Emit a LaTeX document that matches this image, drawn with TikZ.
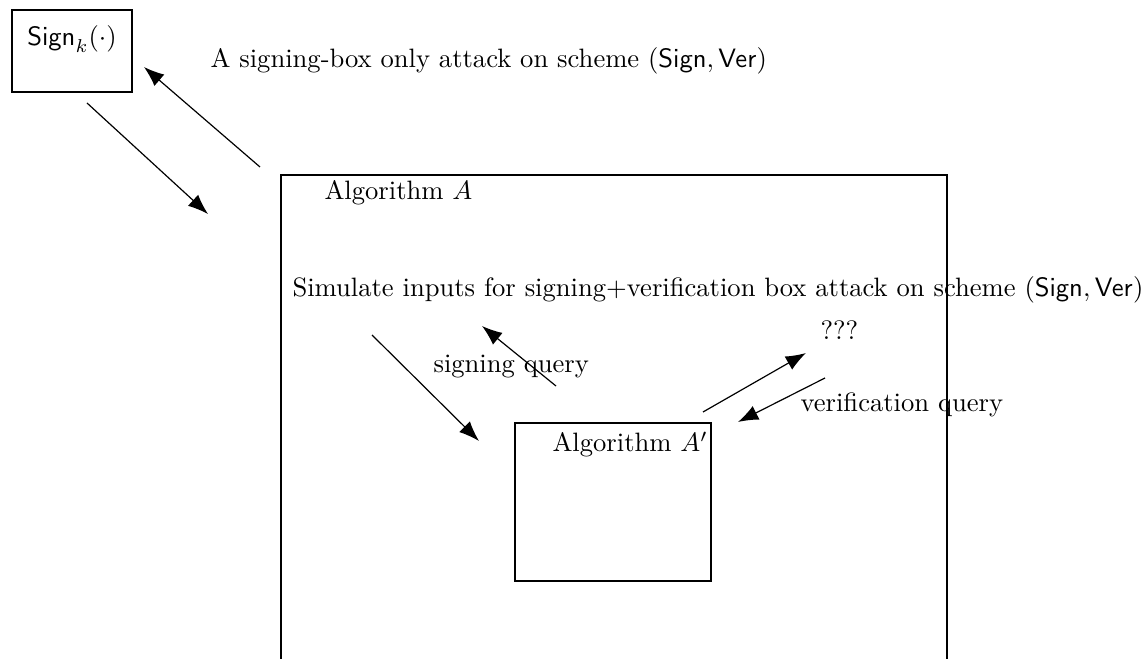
\documentclass[tikz,border=0pt]{standalone}
\usetikzlibrary{arrows.meta}
\begin{document}
\begin{tikzpicture}[x=0.376pt,y=-0.376pt,
  frame/.style={draw,line width=0.45pt,inner sep=0pt},
  txt/.style={inner sep=0pt,anchor=base west},
  flow/.style={line width=0.45pt,-{Latex[length=7.6pt,width=5.7pt]}}]
% page area; the outer algorithm box runs past the lower edge
\clip (0,0) rectangle (1143,659);

% signing oracle box
\node[frame,minimum width=120*0.376pt,minimum height=82*0.376pt] (signbox) at (72,51) {};
\node[inner sep=0pt] (signlbl) at (72,39) {$\mathsf{Sign}_k(\cdot)$};

\node[txt] (title) at (210,68) {A signing-box only attack on scheme $(\mathsf{Sign},\mathsf{Ver})$};

% outer algorithm A
\node[frame,minimum width=666*0.376pt,minimum height=560*0.376pt] (algA) at (614,455) {};
\node[txt] (algAlbl) at (324,200) {Algorithm $A$};
\node[txt] (sim) at (292,297) {Simulate inputs for signing+verification box attack on scheme $(\mathsf{Sign},\mathsf{Ver})$};

% inner algorithm A'
\node[frame,minimum width=196*0.376pt,minimum height=158*0.376pt] (algB) at (613,502) {};
\node[txt] (algBlbl) at (552,452) {Algorithm $A'$};

\node[txt] (sq) at (433,373) {signing query};
\node[txt] (qqq) at (820,340) {???};
\node[txt] (vq) at (800,412) {verification query};

% arrow end points
\coordinate (a1s) at (87,103);  \coordinate (a1e) at (208,214);
\coordinate (a2s) at (260,167); \coordinate (a2e) at (144,67);
\coordinate (a3s) at (372,335); \coordinate (a3e) at (479,441);
\coordinate (a4s) at (556,386); \coordinate (a4e) at (482,326);
\coordinate (a5s) at (703,412); \coordinate (a5e) at (806,353);
\coordinate (a6s) at (825,378); \coordinate (a6e) at (738,422);

\draw[flow] (a1s) -- (a1e);
\draw[flow] (a2s) -- (a2e);
\draw[flow] (a3s) -- (a3e);
\draw[flow] (a4s) -- (a4e);
\draw[flow] (a5s) -- (a5e);
\draw[flow] (a6s) -- (a6e);
\end{tikzpicture}
\end{document}
